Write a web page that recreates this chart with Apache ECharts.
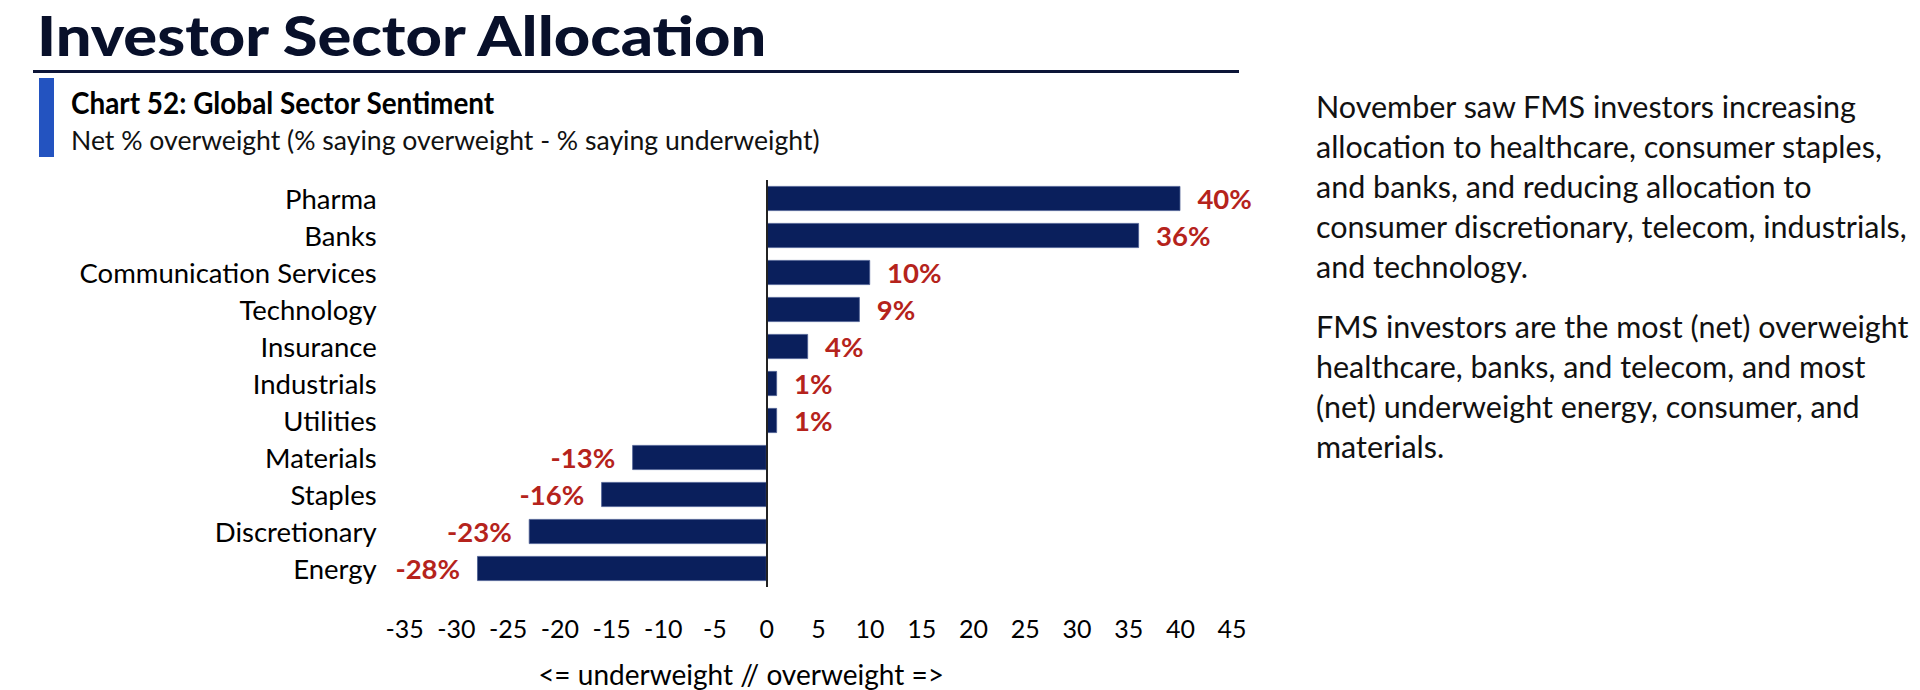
<!DOCTYPE html>
<html><head><meta charset="utf-8">
<script src="https://cdn.jsdelivr.net/npm/echarts@6/dist/echarts.min.js"></script>
<style>html,body{margin:0;padding:0;background:#fff}#c{width:1920px;height:690px}</style>
</head><body><div id="c"></div>
<script>
// ---- data ----
const categories = ['Pharma', 'Banks', 'Communication Services', 'Technology', 'Insurance', 'Industrials', 'Utilities', 'Materials', 'Staples', 'Discretionary', 'Energy'];
const netOverweight = [40, 36, 10, 9, 4, 1, 1, -13, -16, -23, -28];
const axisMin = -35;
const axisMax = 45;
const axisStep = 5;
// ---- texts ----
const pageTitle = 'Investor Sector Allocation';
const chartTitle = 'Chart 52: Global Sector Sentiment';
const chartSubtitle = 'Net % overweight (% saying overweight - % saying underweight)';
const axisCaption = '<= underweight // overweight =>';
const commentaryPara1 = ['November saw FMS investors increasing', 'allocation to healthcare, consumer staples,', 'and banks, and reducing allocation to', 'consumer discretionary, telecom, industrials,', 'and technology.'];
const commentaryPara2 = ['FMS investors are the most (net) overweight', 'healthcare, banks, and telecom, and most', '(net) underweight energy, consumer, and', 'materials.'];

const NAVY = '#0a1f5c';
const RED = '#b5231c';
const BODY = 'Lato, "Noto Sans", sans-serif';

// horizontal condensing factor so a heading fills the width it has in the reference
const mctx = document.createElement('canvas').getContext('2d');
function fitScale(text, font, targetWidth) { mctx.font = font; return targetWidth / mctx.measureText(text).width; }

const titleFont = '900 56px ' + BODY;
const chartTitleFont = 'bold 30px ' + BODY;
const subFont = '27.5px ' + BODY;

const chart = echarts.init(document.getElementById('c'), null, { renderer: 'svg' });

const graphics = [
  { type: 'text', x: 37, y: 34, scaleX: fitScale(pageTitle, titleFont, 734), style: { text: pageTitle, font: titleFont, fill: '#08102a', verticalAlign: 'middle' } },
  { type: 'rect', shape: { x: 33, y: 70, width: 1206, height: 3 }, style: { fill: '#0c1538' } },
  { type: 'rect', shape: { x: 39, y: 78, width: 15, height: 79 }, style: { fill: '#2353c0' } },
  { type: 'text', x: 71, y: 102, scaleX: fitScale(chartTitle, chartTitleFont, 424), style: { text: chartTitle, font: chartTitleFont, fill: '#000', verticalAlign: 'middle' } },
  { type: 'text', x: 71, y: 139, scaleX: fitScale(chartSubtitle, subFont, 749), style: { text: chartSubtitle, font: subFont, fill: '#111', verticalAlign: 'middle' } },
  { type: 'text', x: 741, y: 674, style: { text: axisCaption, font: '28px ' + BODY, fill: '#000', textAlign: 'center', textVerticalAlign: 'middle' } }
];
const lineH = 40;
const paraGap = 60;
commentaryPara1.forEach((t, i) => graphics.push({ type: 'text', x: 1316, y: 106 + i * lineH, style: { text: t, font: '30.5px ' + BODY, fill: '#111', textVerticalAlign: 'middle' } }));
const para2Top = 106 + (commentaryPara1.length - 1) * lineH + paraGap;
commentaryPara2.forEach((t, i) => graphics.push({ type: 'text', x: 1316, y: para2Top + i * lineH, style: { text: t, font: '30.5px ' + BODY, fill: '#111', textVerticalAlign: 'middle' } }));

chart.setOption({
  animation: false,
  backgroundColor: '#fff',
  grid: { left: 404.7, top: 180, width: 827.4, height: 407, containLabel: false },
  xAxis: {
    type: 'value', min: axisMin, max: axisMax, interval: axisStep,
    axisLine: { show: false }, axisTick: { show: false }, splitLine: { show: false },
    axisLabel: { margin: 28, fontSize: 25, fontFamily: BODY, color: '#000' }
  },
  yAxis: {
    type: 'category', data: categories, inverse: true,
    axisLine: { show: false }, axisTick: { show: false },
    axisLabel: { margin: 28, fontSize: 27.5, fontFamily: BODY, color: '#000' }
  },
  series: [{
    type: 'bar',
    barWidth: 25,
    itemStyle: { color: NAVY, borderColor: '#4b5d92', borderWidth: 0.8 },
    data: netOverweight.map(v => ({ value: v, label: { position: v >= 0 ? 'right' : 'left' } })),
    label: { show: true, distance: 17, formatter: p => p.value + '%', fontSize: 27.5, fontWeight: 'bold', fontFamily: BODY, color: RED },
    markLine: {
      silent: true, symbol: 'none', animation: false,
      label: { show: false },
      lineStyle: { color: '#222', width: 2, type: 'solid' },
      data: [{ xAxis: 0 }]
    }
  }],
  graphic: graphics
});
</script>
</body></html>
